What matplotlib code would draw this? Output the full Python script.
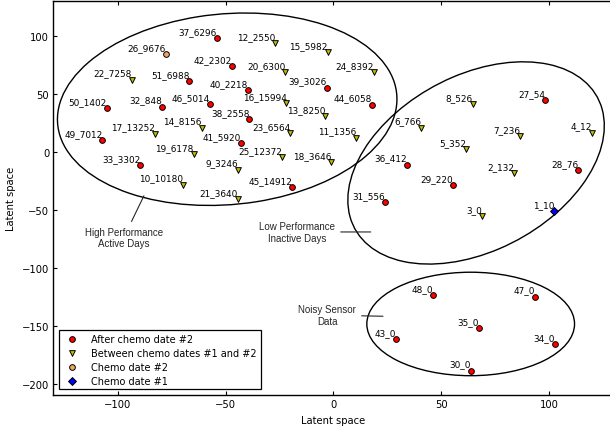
import matplotlib

matplotlib.use("Agg")
import matplotlib.pyplot as plt
from matplotlib.patches import Ellipse

# After chemo date #2
after_labels = ["37_6296", "42_2302", "51_6988", "40_2218", "39_3026", "50_1402", "32_848",
                "46_5014", "38_2558", "49_7012", "41_5920", "33_3302", "45_14912", "44_6058",
                "27_54", "36_412", "28_76", "29_220", "31_556", "48_0", "47_0", "35_0",
                "43_0", "34_0", "30_0"]
after_x = [-54.1, -47.1, -66.8, -39.6, -3.2, -105.2, -79.6, -57.2, -39.0, -107.2, -43.0,
           -89.7, -19.0, 17.8, 98.2, 34.2, 113.5, 55.4, 23.8, 46.1, 93.5, 67.6, 29.2,
           102.9, 63.8]
after_y = [97.8, 73.6, 61.0, 52.9, 55.2, 37.7, 38.8, 41.1, 28.4, 9.8, 7.5, -11.5, -30.7,
           40.5, 44.3, -11.2, -15.8, -29.0, -43.6, -123.5, -125.0, -152.3, -161.5,
           -166.0, -188.8]

# Between chemo dates #1 and #2
between_labels = ["12_2550", "15_5982", "20_6300", "22_7258", "16_15994", "13_8250",
                  "14_8156", "17_13252", "23_6564", "19_6178", "25_12372", "18_3646",
                  "9_3246", "10_10180", "21_3640", "24_8392", "11_1356", "8_526", "6_766",
                  "7_236", "4_12", "5_352", "2_132", "3_0"]
between_x = [-27.1, -2.6, -22.4, -93.7, -21.8, -3.7, -61.1, -82.9, -20.0, -64.8, -23.8,
             -0.9, -44.4, -69.7, -44.5, 18.7, 10.5, 64.7, 40.8, 86.6, 120.0, 61.6, 83.8,
             69.1]
between_y = [93.4, 85.7, 68.4, 62.1, 41.7, 30.5, 20.7, 15.5, 16.1, -2.2, -4.6, -9.1,
             -15.5, -28.4, -40.8, 68.7, 12.1, 40.9, 20.7, 13.3, 16.4, 2.0, -18.6, -55.2]

# Chemo date #2
chemo2_labels = ["26_9676"]
chemo2_x = [-77.8]
chemo2_y = [84.0]

# Chemo date #1
chemo1_labels = ["1_10"]
chemo1_x = [102.4]
chemo1_y = [-51.1]

groups = [
    (after_labels, after_x, after_y, "o", "r", "After chemo date #2"),
    (between_labels, between_x, between_y, "v", (0.75, 0.75, 0), "Between chemo dates #1 and #2"),
    (chemo2_labels, chemo2_x, chemo2_y, "o", "#f4a460", "Chemo date #2"),
    (chemo1_labels, chemo1_x, chemo1_y, "D", "b", "Chemo date #1"),
]

FS = 7.2
LABEL_FS = 6.4
NOTE_FONT = ["Liberation Sans", "DejaVu Sans"]

fig = plt.figure(figsize=(6.10, 4.27), dpi=100)
ax = fig.add_axes([0.0874, 0.0719, 0.9184, 0.9237])

for labels, xs, ys, marker, color, name in groups:
    ms = 17 if marker != "D" else 16
    ax.scatter(xs, ys, marker=marker, s=ms, c=[color], edgecolors="k", linewidths=0.7,
               label=name, zorder=3)
    for lab, x, y in zip(labels, xs, ys):
        ax.annotate(lab, (x, y), xytext=(0, 1.5), textcoords="offset points",
                    ha="right", va="bottom", fontsize=LABEL_FS)

# cluster outlines
ax.add_patch(Ellipse((-49.3, 36.6), 171, 152, angle=58, fill=False, ec="k", lw=1.0))
ax.add_patch(Ellipse((66.2, -9.7), 182.8, 105.6, angle=68.4, fill=False, ec="k", lw=1.0))
ax.add_patch(Ellipse((63.7, -148.5), 96.4, 89.2, angle=0, fill=False, ec="k", lw=1.0))

arrow = dict(arrowstyle="-", color="0.15", lw=0.8)
ax.annotate("High Performance\nActive Days", xy=(-87.4, -35.9), xytext=(-97.3, -74),
            ha="center", va="center", fontsize=7, family=NOTE_FONT, color="0.15",
            arrowprops=arrow)
ax.annotate("Low Performance\nInactive Days", xy=(18.6, -69.2), xytext=(-16.8, -69.2),
            ha="center", va="center", fontsize=7, family=NOTE_FONT, color="0.15",
            arrowprops=arrow)
ax.annotate("Noisy Sensor\nData", xy=(24.3, -141.9), xytext=(-2.9, -140.9),
            ha="center", va="center", fontsize=7, family=NOTE_FONT, color="0.15",
            arrowprops=arrow)

ax.set_xlim(-130, 130)
ax.set_ylim(-210, 130)
ax.set_xticks([-100, -50, 0, 50, 100])
ax.set_yticks([-200, -150, -100, -50, 0, 50, 100])
ax.tick_params(direction="in", top=True, right=True, length=3, width=0.8,
               labelsize=FS, pad=3)
for sp in ax.spines.values():
    sp.set_linewidth(1.0)
ax.set_xlabel("Latent space", fontsize=FS)
ax.set_ylabel("Latent space", fontsize=FS)

leg = ax.legend(loc="lower left", fontsize=7.0, scatterpoints=1, fancybox=False,
                framealpha=1, edgecolor="k", borderaxespad=0.6, handlelength=1.8,
                handletextpad=1.1, labelspacing=0.4)
leg.get_frame().set_linewidth(0.9)

fig.savefig("out.png", dpi=100)
